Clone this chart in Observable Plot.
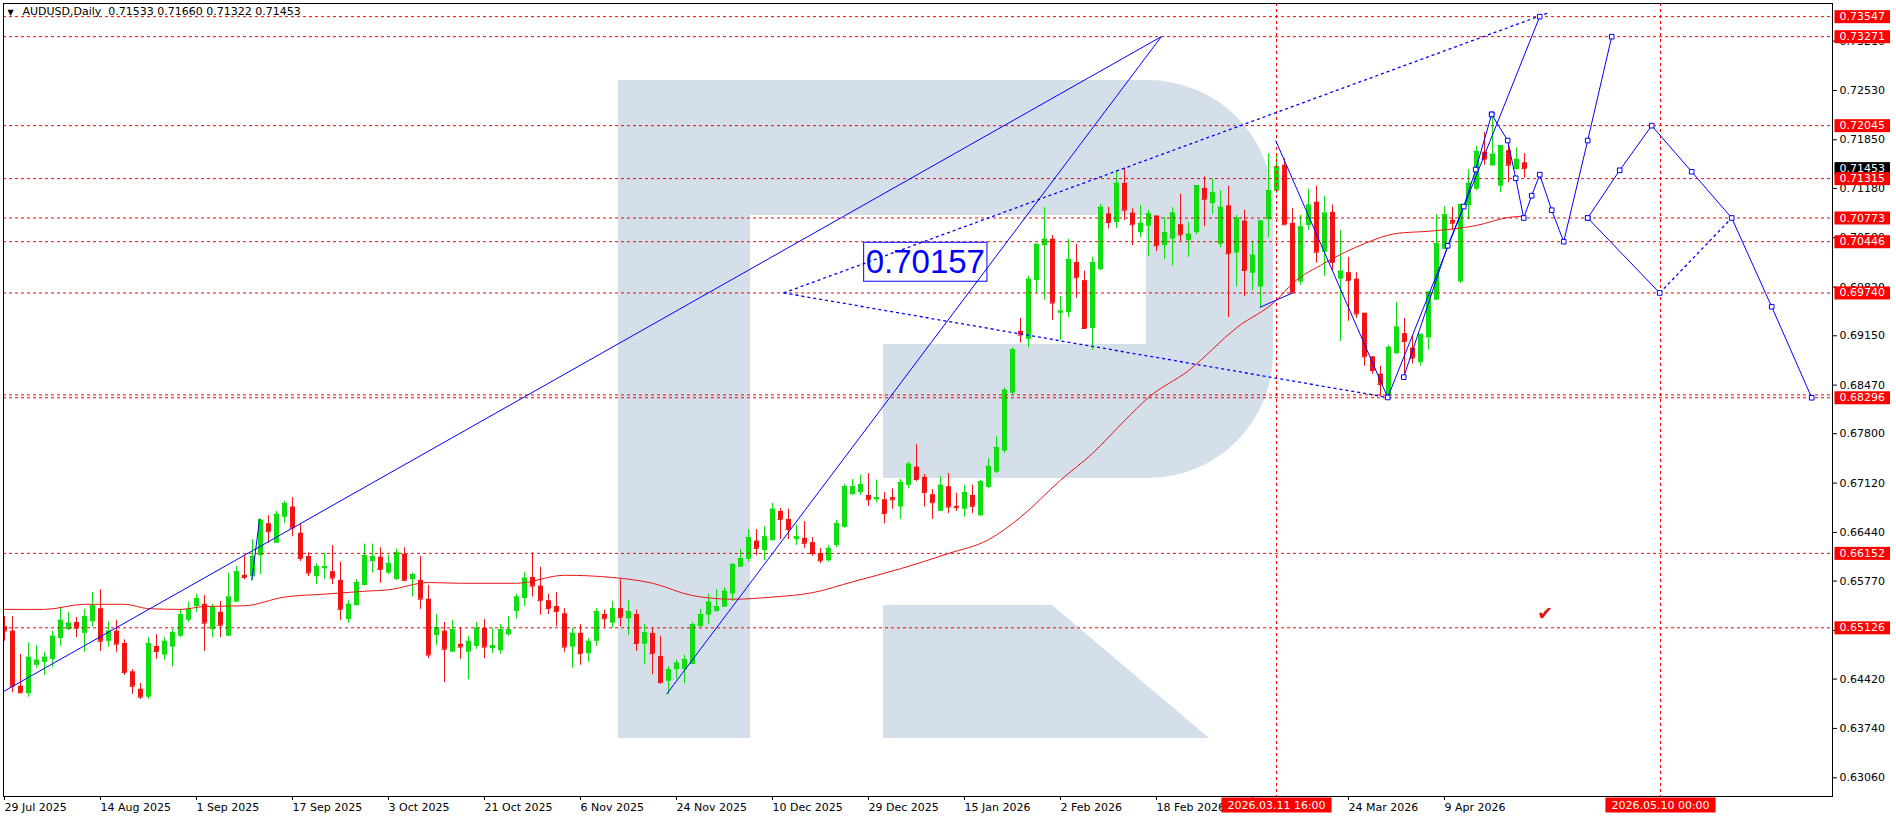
<!DOCTYPE html>
<html><head><meta charset="utf-8">
<script src="https://cdn.jsdelivr.net/npm/d3@7"></script>
<script src="https://cdn.jsdelivr.net/npm/@observablehq/plot@0.6"></script>
<style>html,body{margin:0;padding:0;background:#fff;overflow:hidden}svg{display:block}</style>
</head><body><div id="chart"></div>
<script>
// ---- AUDUSD daily candles (bar index 0 = 29 Jul 2025) ----
const openP = [
.6514,.6508,.6432,.6422,.6461,.6465,.6469,.6498,.6510,.6520,
.6505,.6521,.6539,.6494,.6508,.6491,.6452,.6428,.6417,.6487,
.6475,.6486,.6501,.6523,.6542,.6545,.6510,.6534,.6501,.6548,
.6585,.6583,.6612,.6656,.6629,.6665,.6679,.6643,.6611,.6583,
.6594,.6590,.6578,.6524,.6543,.6571,.6604,.6610,.6588,.6579,
.6614,.6579,.6578,.6552,.6502,.6508,.6479,.6490,.6479,.6487,
.6512,.6484,.6481,.6503,.6535,.6553,.6582,.6570,.6550,.6542,
.6532,.6486,.6505,.6477,.6494,.6531,.6519,.6539,.6525,.6531,
.6490,.6505,.6473,.6439,.6455,.6455,.6462,.6514,.6530,.6535,
.6541,.6559,.6596,.6607,.6632,.6619,.6633,.6673,.6662,.6634,
.6636,.6630,.6615,.6605,.6626,.6651,.6696,.6699,.6695,.6689,
.6689,.6692,.6679,.6709,.6734,.6720,.6696,.6673,.6707,.6680,
.6676,.6695,.6667,.6706,.6727,.6756,.6836,.6921,.6910,.6991,
.7039,.7048,.6946,.6947,.7016,.6991,.6925,.7006,.7083,.7071,
.7125,.7084,.7057,.7066,.7080,.7039,.7048,.7068,.7046,.7057,
.7118,.7097,.7041,.7094,.7029,.7073,.7001,.6982,.7075,.7114,
.7150,.7070,.6989,.7067,.7099,.7030,.7085,.6993,.7002,.6993,
.6946,.6886,.6862,.6832,.6890,.6918,.6898,.6878,.6912,.6964,
.7034,.7074,.6989,.7094,.7117,.7168,.7149,.7121,.7170,.7144,
.71533];
const highP = [
.6528,.6528,.6476,.6492,.6488,.6479,.6508,.6541,.6534,.6527,
.6538,.6561,.6565,.6521,.6523,.6496,.6455,.6436,.6499,.6503,
.6499,.6510,.6538,.6548,.6559,.6557,.6545,.6549,.6588,.6597,
.6612,.6634,.6662,.6667,.6673,.6687,.6692,.6656,.6616,.6601,
.6615,.6626,.6603,.6550,.6579,.6628,.6628,.6623,.6612,.6621,
.6623,.6588,.6611,.6571,.6531,.6520,.6523,.6513,.6501,.6520,
.6524,.6512,.6517,.6528,.6559,.6589,.6616,.6596,.6559,.6561,
.6539,.6512,.6517,.6498,.6539,.6537,.6549,.6579,.6550,.6537,
.6517,.6512,.6501,.6459,.6468,.6475,.6520,.6538,.6559,.6565,
.6568,.6601,.6621,.6648,.6648,.6652,.6684,.6677,.6676,.6654,
.6659,.6637,.6622,.6626,.6661,.6710,.6717,.6723,.6725,.6716,
.6699,.6704,.6717,.6741,.6765,.6724,.6703,.6721,.6725,.6698,
.6709,.6709,.6716,.6746,.6776,.6843,.6898,.6939,.6997,.7041,
.7092,.7053,.6969,.7048,.7041,.7004,.7023,.7096,.7092,.7143,
.7146,.7090,.7095,.7088,.7080,.7078,.7092,.7110,.7071,.7122,
.7134,.7131,.7115,.7121,.7081,.7088,.7044,.7074,.7166,.7166,
.7159,.7090,.7081,.7117,.7121,.7107,.7095,.7060,.7023,.7002,
.6946,.6886,.6873,.6902,.6961,.6939,.6914,.6917,.6976,.7082,
.7093,.7092,.7096,.7144,.7176,.7195,.7215,.7177,.7184,.7174,
.71660];
const lowP = [
.6494,.6423,.6422,.6417,.6457,.6447,.6458,.6487,.6509,.6499,
.6479,.6514,.6480,.6486,.6479,.6447,.6421,.6414,.6414,.6469,
.6468,.6459,.6499,.6520,.6534,.6480,.6499,.6499,.6501,.6548,
.6579,.6578,.6586,.6629,.6629,.6656,.6638,.6604,.6583,.6572,
.6579,.6572,.6523,.6519,.6543,.6570,.6588,.6574,.6586,.6578,
.6576,.6555,.6538,.6470,.6488,.6437,.6479,.6469,.6441,.6483,
.6470,.6477,.6476,.6501,.6525,.6542,.6555,.6530,.6531,.6514,
.6479,.6457,.6461,.6465,.6487,.6512,.6512,.6514,.6502,.6480,
.6462,.6448,.6435,.6421,.6441,.6435,.6462,.6514,.6517,.6534,
.6541,.6549,.6596,.6603,.6612,.6605,.6632,.6634,.6634,.6626,
.6622,.6611,.6601,.6603,.6623,.6650,.6695,.6695,.6680,.6685,
.6656,.6676,.6662,.6704,.6714,.6679,.6662,.6673,.6670,.6673,
.6665,.6670,.6666,.6704,.6725,.6753,.6833,.6905,.6898,.6973,
.6964,.6936,.6908,.6940,.6967,.6925,.6895,.7005,.7062,.7063,
.7074,.7039,.7050,.7024,.7031,.7020,.7011,.7045,.7023,.7054,
.7065,.7082,.7036,.6940,.6982,.6969,.6977,.6954,.7050,.7111,
.7068,.6974,.6984,.7060,.7015,.6997,.7005,.6907,.6935,.6939,
.6873,.6862,.6831,.6832,.6890,.6861,.6876,.6873,.6895,.6964,
.7034,.7060,.6987,.7075,.7115,.7150,.7149,.7112,.7126,.7143,
.71322];
const closeP = [
.6508,.6432,.6423,.6472,.6468,.6472,.6501,.6523,.6519,.6512,
.6528,.6543,.6494,.6508,.6490,.6451,.6432,.6417,.6491,.6480,
.6494,.6506,.6531,.6538,.6553,.6519,.6541,.6516,.6555,.6590,
.6582,.6611,.6661,.6645,.6669,.6684,.6650,.6608,.6588,.6597,
.6597,.6581,.6538,.6545,.6575,.6612,.6611,.6593,.6601,.6616,
.6578,.6586,.6552,.6475,.6513,.6483,.6510,.6486,.6494,.6512,
.6486,.6488,.6510,.6510,.6555,.6581,.6570,.6550,.6539,.6535,
.6486,.6505,.6477,.6494,.6535,.6525,.6539,.6527,.6535,.6491,
.6506,.6477,.6437,.6455,.6464,.6469,.6517,.6531,.6548,.6542,
.6563,.6600,.6608,.6637,.6622,.6638,.6676,.6662,.6648,.6638,
.6629,.6615,.6605,.6622,.6656,.6707,.6707,.6710,.6689,.6692,
.6670,.6689,.6713,.6738,.6717,.6699,.6685,.6709,.6679,.6678,
.6699,.6680,.6714,.6735,.6761,.6840,.6896,.6916,.6993,.7041,
.7048,.6960,.6949,.7020,.6995,.6925,.7016,.7092,.7071,.7125,
.7088,.7068,.7070,.7083,.7039,.7057,.7084,.7054,.7055,.7122,
.7103,.7112,.7092,.7028,.7077,.7005,.7026,.7073,.7115,.7148,
.7068,.6974,.7065,.7095,.7030,.7084,.7016,.7004,.6991,.6945,
.6886,.6867,.6848,.6899,.6927,.6907,.6884,.6917,.6975,.7042,
.7082,.7070,.7096,.7125,.7169,.7158,.7165,.7177,.7150,.7158,
.71453];

// moving average (red line), sampled by bar index
const maIdx = [0,5,10,15,18,22,25,30,35,40,45,48,53,57,64,70,76,81,86,91,96,101,106,112,118,123,127,132,136,140,143,148,154,159,161,165,170,174,178,184,188,190];
const maVal = [.6538,.6538,.6545,.6545,.6539,.6538,.6542,.6543,.6555,.6559,.6563,.6565,.6575,.6574,.6574,.6585,.6582,.6574,.6557,.6552,.6555,.6561,.6576,.6594,.6615,.6634,.6665,.6716,.6753,.6798,.6830,.6867,.6926,.6964,.6987,.7015,.7042,.7056,.7059,.7067,.7078,.7080];

// horizontal levels
const levelVals = [0.73547,0.73271,0.72045,0.71315,0.70773,0.70446,0.69740,0.68296,0.68335,0.66152,0.65126];
const levelLabels = [0.73547,0.73271,0.72045,0.71315,0.70773,0.70446,0.69740,0.68296,0.66152,0.65126];
const lastPrice = 0.71453;

// vertical time lines
const vIdx = [159, 207];
const vLabels = ["2026.03.11 16:00", "2026.05.10 00:00"];

// axis ticks
const yTicks = [0.73210,0.72530,0.71850,0.71180,0.70500,0.69820,0.69150,0.68470,0.67800,0.67120,0.66440,0.65770,0.65090,0.64420,0.63740,0.63060];
const xTickIdx = [0,12,24,36,48,60,72,84,96,108,120,132,144,156,168,180];
const xTickLabels = ["29 Jul 2025","14 Aug 2025","1 Sep 2025","17 Sep 2025","3 Oct 2025","21 Oct 2025","6 Nov 2025","24 Nov 2025","10 Dec 2025","29 Dec 2025","15 Jan 2026","2 Feb 2026","18 Feb 2026","6 Mar 2026","24 Mar 2026","9 Apr 2026"];

// drawn objects: [index1, price1, index2, price2]
const solidSegs = [
  [-0.1,0.6425,144.6,0.73271],
  [82.75,0.6421,144.6,0.73271],
  [30.9,0.6578,31.9,0.6663],
  [156.9,0.6954,161.0,0.6974],
  [158.9,0.7184,172.9,0.6830]
];
const dottedSegs = [
  [97.4,0.6974,193.0,0.7360],
  [97.4,0.6974,172.9,0.6830],
  [206.9,0.6974,215.9,0.70773]
];
// forecast paths with square nodes: [index, price]
const pathA = [[172.9,0.6830],[191.9,0.73547]];
const pathB = [[174.9,0.6858],[180.4,0.7039],[182.4,0.7093],[183.9,0.7144],[185.9,0.7220]];
const pathC = [[185.9,0.7220],[187.9,0.7184],[188.9,0.7132],[189.9,0.70773],[190.9,0.7108],[191.9,0.7137],[193.4,0.7088],[194.9,0.70446],[197.9,0.7184],[200.9,0.73271]];
const pathD = [[197.9,0.70773],[201.9,0.7143],[205.9,0.72045],[210.9,0.7141],[215.9,0.70773],[220.9,0.6955],[225.9,0.68296]];
const pathE = [[197.9,0.70773],[206.9,0.69740]];
const boxLabel = {i: 115.1, p: 0.70157};
const checkMark = {i: 192.6, p: 0.6532};
const header = "AUDUSD,Daily\u00a0 0.71533 0.71660 0.71322 0.71453";

// ---- build ----
const UP = "#12dc12", DN = "#f01414", RED = "#ff0000", BLUE = "#0000ff";
const candles = openP.map((o, i) => ({i, o, h: highP[i], l: lowP[i], c: closeP[i]}));
const col = d => d.c >= d.o ? UP : DN;
const ma = maIdx.map((i, k) => ({i, v: maVal[k]}));
const seg = a => a.map(s => ({x1: s[0], y1: s[1], x2: s[2], y2: s[3]}));
const paths = [pathA, pathB, pathC, pathD, pathE].flatMap((p, k) => p.map(q => ({k, i: q[0], p: q[1]})));
const xLabelMap = new Map(xTickIdx.map((d, k) => [d, xTickLabels[k]]));
const vData = vIdx.map((i, k) => ({i, label: vLabels[k]}));

const chart = Plot.plot({
  width: 1896, height: 820,
  marginLeft: 3, marginRight: 64, marginTop: 3, marginBottom: 24,
  x: {type: "linear", domain: [-0.125, 228.5]},
  y: {type: "linear", domain: [0.62802, 0.73728]},
  style: {fontFamily: "DejaVu Sans", fontSize: "11px", background: "#fff", color: "#000", overflow: "visible"},
  marks: [
    Plot.ruleX(candles, {x: "i", y1: "l", y2: "h", stroke: col, clip: true}),
    Plot.ruleX(candles, {x: "i", y1: "o", y2: "c", stroke: col, strokeWidth: 5, clip: true}),
    Plot.ruleY(candles, {y: "c", x1: d => d.i - 0.3125, x2: d => d.i + 0.3125, stroke: col, clip: true}),
    Plot.line(ma, {x: "i", y: "v", stroke: "#ee1111", strokeWidth: 1, curve: "monotone-x", clip: true}),
    Plot.ruleY(levelVals, {y: d => d, stroke: RED, strokeDasharray: "3,3", strokeWidth: 1}),
    Plot.ruleX(vIdx, {x: d => d, stroke: RED, strokeDasharray: "3,3", strokeWidth: 1}),
    Plot.link(seg(solidSegs), {x1: "x1", y1: "y1", x2: "x2", y2: "y2", stroke: BLUE, strokeWidth: 1, clip: true}),
    Plot.link(seg(dottedSegs), {x1: "x1", y1: "y1", x2: "x2", y2: "y2", stroke: BLUE, strokeWidth: 1.3, strokeDasharray: "3,3", clip: true}),
    Plot.line(paths, {x: "i", y: "p", z: "k", stroke: BLUE, strokeWidth: 1, clip: true}),
    Plot.dot(paths, {x: "i", y: "p", symbol: "square", r: 2.6, stroke: BLUE, fill: "white", strokeWidth: 1}),
    Plot.text([checkMark], {x: "i", y: "p", text: () => "\u2714", fill: "#e01010", fontSize: 19}),
    Plot.text([boxLabel], {x: "i", y: "p", text: d => d.p.toFixed(5), fill: BLUE, fontSize: 33, fontFamily: "Liberation Sans"}),
    Plot.text(["\u25BC"], {frameAnchor: "top-left", dx: 4, dy: 6, lineAnchor: "top", textAnchor: "start", fontSize: 8, fill: "#000"}),
    Plot.text([header], {frameAnchor: "top-left", dx: 19, dy: 4, lineAnchor: "top", textAnchor: "start", fontSize: 11, fill: "#000"}),
    Plot.frame({stroke: "#000"}),
    Plot.axisY(yTicks, {anchor: "right", tickSize: 4, tickPadding: 3, tickFormat: d => d.toFixed(5), label: null, fontSize: 11}),
    Plot.axisX(xTickIdx, {anchor: "bottom", tickSize: 4, tickPadding: 3, tickFormat: d => xLabelMap.get(d), textAnchor: "start", label: null, fontSize: 11}),
    Plot.text([lastPrice], {y: d => d, frameAnchor: "right", dx: 7, textAnchor: "start", text: d => d.toFixed(5), fill: "white", fontSize: 11}),
    Plot.text(levelLabels, {y: d => d, frameAnchor: "right", dx: 7, textAnchor: "start", text: d => d.toFixed(5), fill: "white", fontSize: 11}),
    Plot.text(vData, {x: "i", text: "label", frameAnchor: "bottom", dy: 12, fill: "white", fontSize: 11})
  ]
});
document.getElementById("chart").appendChild(chart);

// logo watermark behind everything
const NS = "http://www.w3.org/2000/svg";
const wm = document.createElementNS(NS, "path");
wm.setAttribute("d", "M618,80 H1148 A125,125 0 0 1 1273,205 V353 A125,125 0 0 1 1148,478 H883 V344 H1146 V215 H750 V738 H618 Z M883,605 H1052 L1209,738 H883 Z");
wm.setAttribute("fill", "#d5dfea");
chart.insertBefore(wm, chart.querySelector("g"));

// label backgrounds
const redSet = new Set(levelLabels.map(d => d.toFixed(5)));
const timeSet = new Set(vLabels);
chart.querySelectorAll("text").forEach(t => {
  const s = t.textContent;
  let fill = null, stroke = null, px = 0, py = 0;
  if (redSet.has(s)) { fill = RED; px = 5; py = 0; }
  else if (s === lastPrice.toFixed(5)) { fill = "#000"; px = 5; py = 0; }
  else if (timeSet.has(s)) { fill = RED; px = 6; py = 1; }
  else if (s === boxLabel.p.toFixed(5)) { fill = "none"; stroke = BLUE; px = 2; py = 1; }
  else return;
  const b = t.getBBox();
  const r = document.createElementNS(NS, "rect");
  r.setAttribute("x", b.x - px); r.setAttribute("y", b.y - py);
  r.setAttribute("width", b.width + 2 * px); r.setAttribute("height", b.height + 2 * py);
  r.setAttribute("fill", fill);
  if (stroke) r.setAttribute("stroke", stroke);
  const tr = t.getAttribute("transform"); if (tr) r.setAttribute("transform", tr);
  t.parentNode.insertBefore(r, t);
});
</script>
</body></html>
